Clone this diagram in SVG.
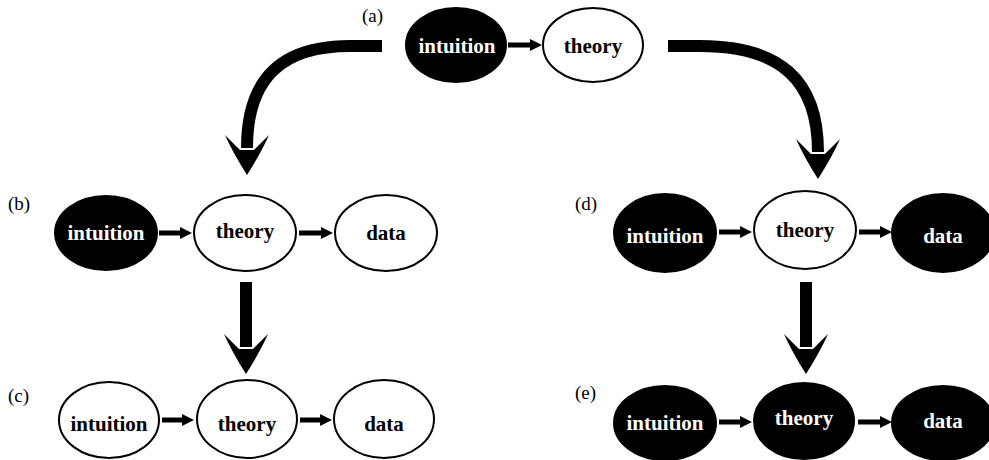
<svg xmlns="http://www.w3.org/2000/svg" width="989" height="460" viewBox="0 0 989 460">
<style>
.blk{fill:#000;stroke:#000;stroke-width:2}
.wht{fill:#fff;stroke:#000;stroke-width:2}
.tw{font-family:"Liberation Serif","Times New Roman",serif;font-weight:bold;font-size:21px;fill:#fff;text-anchor:middle}
.tb{font-family:"Liberation Serif","Times New Roman",serif;font-weight:bold;font-size:21px;fill:#000;text-anchor:middle}
.lbl{font-family:"Liberation Serif","Times New Roman",serif;font-size:19px;fill:#000}
.sm{stroke:#000;stroke-width:5;fill:none;marker-end:url(#sh)}
.big{stroke:#000;stroke-width:12;fill:none;marker-end:url(#bh)}
</style>
<defs>
<marker id="sh" markerUnits="userSpaceOnUse" markerWidth="14" markerHeight="14" refX="6" refY="6" orient="auto" overflow="visible">
<path d="M0,0 L12,6 L0,12 Z" fill="#000"/>
</marker>
<marker id="bh" markerUnits="userSpaceOnUse" markerWidth="46" markerHeight="46" refX="13" refY="22" orient="auto" overflow="visible">
<path d="M40,22 Q18,8 0,0 Q9,9 15,15 L15,29 Q9,35 0,44 Q18,36 40,22 Z" fill="#000"/>
</marker>
</defs>
<g id="connectors">
<path class="sm" d="M508,45 L536,45"/>
<path class="sm" d="M159,233 L186,233"/>
<path class="sm" d="M299,233 L327,233"/>
<path class="sm" d="M719,232 L746,232"/>
<path class="sm" d="M859,232 L886,232"/>
<path class="sm" d="M162,420 L188,420"/>
<path class="sm" d="M300,420 L326,420"/>
<path class="sm" d="M719,422 L746,422"/>
<path class="sm" d="M858,422 L886,422"/>
<path class="big" d="M382,46 L350,46 C285,46 247,75 247,148"/>
<path class="big" d="M668,46 L700,46 C780,46 818,80 818,152"/>
<path class="big" d="M246,282 L246,347"/>
<path class="big" d="M806,282 L806,347"/>
</g>
<g id="labels">
<text class="lbl" x="362" y="22">(a)</text>
<text class="lbl" x="8" y="210">(b)</text>
<text class="lbl" x="8" y="402">(c)</text>
<text class="lbl" x="575" y="210">(d)</text>
<text class="lbl" x="575" y="399">(e)</text>
</g>
<g id="a-intuition"><ellipse class="blk" cx="456" cy="45" rx="50" ry="37"/><text class="tw" x="457" y="53">intuition</text></g>
<g id="a-theory"><ellipse class="wht" cx="593" cy="45" rx="50" ry="37"/><text class="tb" x="593" y="53">theory</text></g>
<g id="b-intuition"><ellipse class="blk" cx="106" cy="233" rx="51" ry="37"/><text class="tw" x="106" y="240">intuition</text></g>
<g id="b-theory"><ellipse class="wht" cx="245" cy="233" rx="51" ry="38"/><text class="tb" x="245" y="238">theory</text></g>
<g id="b-data"><ellipse class="wht" cx="386" cy="233" rx="51" ry="38"/><text class="tb" x="386" y="240">data</text></g>
<g id="d-intuition"><ellipse class="blk" cx="665" cy="233" rx="51" ry="39"/><text class="tw" x="665" y="243">intuition</text></g>
<g id="d-theory"><ellipse class="wht" cx="805" cy="230" rx="51" ry="39"/><text class="tb" x="805" y="237">theory</text></g>
<g id="d-data"><ellipse class="blk" cx="943" cy="233" rx="51" ry="39"/><text class="tw" x="943" y="243">data</text></g>
<g id="c-intuition"><ellipse class="wht" cx="109" cy="420" rx="50" ry="38"/><text class="tb" x="109" y="431">intuition</text></g>
<g id="c-theory"><ellipse class="wht" cx="247" cy="419" rx="50" ry="39"/><text class="tb" x="247" y="431">theory</text></g>
<g id="c-data"><ellipse class="wht" cx="384" cy="419" rx="50" ry="39"/><text class="tb" x="384" y="431">data</text></g>
<g id="e-intuition"><ellipse class="blk" cx="665" cy="423" rx="51" ry="37"/><text class="tw" x="665" y="430">intuition</text></g>
<g id="e-theory"><ellipse class="blk" cx="804" cy="421" rx="50" ry="38"/><text class="tw" x="804" y="425">theory</text></g>
<g id="e-data"><ellipse class="blk" cx="943" cy="423" rx="51" ry="37"/><text class="tw" x="943" y="428">data</text></g>
</svg>
